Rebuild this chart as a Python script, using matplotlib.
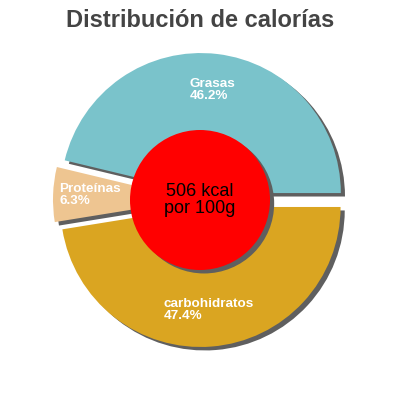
import matplotlib
matplotlib.use('Agg')
import matplotlib.pyplot as plt
import matplotlib.patches as mpatches

# data
labels = ['Grasas', 'Proteínas', 'carbohidratos']
percents = [46.2, 6.3, 47.4]
colors = ['#7ac3cb', '#eec591', '#daa521']
kcal = 506

plt.rcParams['font.family'] = ['Liberation Sans', 'DejaVu Sans']

fig = plt.figure(figsize=(4, 4), dpi=100)
ax = fig.add_axes([0, 0, 1, 1])

shadow = {'ox': 3, 'oy': -2.5, 'facecolor': '#5f5f5f', 'edgecolor': 'none', 'alpha': 1}
wedges, _ = ax.pie(percents, colors=colors, startangle=0, counterclock=True,
                   center=(200, 200), radius=140, explode=[7, 7, 7],
                   shadow=shadow, frame=True)
ax.set_xlim(0, 400)
ax.set_ylim(0, 400)
ax.set_aspect('equal')
ax.axis('off')

# label positions (pixel coords, y up)
label_pos = [(190, 310), (59, 205), (164, 90)]
for name, pct, (lx, ly) in zip(labels, percents, label_pos):
    ax.text(lx, ly, f'{name}\n{pct}%', color='white', fontsize=9.7, fontweight='bold',
            ha='left', va='center', linespacing=0.9)

circle = mpatches.Circle((200, 200), 70, facecolor='#ff0000', edgecolor='none', zorder=3)
ax.add_patch(mpatches.Shadow(circle, 3, -2.5, facecolor='#5f5f5f', edgecolor='none',
                             alpha=1, zorder=2.5))
ax.add_patch(circle)
ax.text(200, 200, f'{kcal} kcal\npor 100g', color='black', fontsize=13,
        ha='center', va='center', linespacing=1.0, zorder=4)

fig.text(0.5, 0.948, 'Distribución de calorías', ha='center', va='center',
         fontsize=17, fontweight='bold', color='#444444')

fig.savefig('out.png', dpi=100)
